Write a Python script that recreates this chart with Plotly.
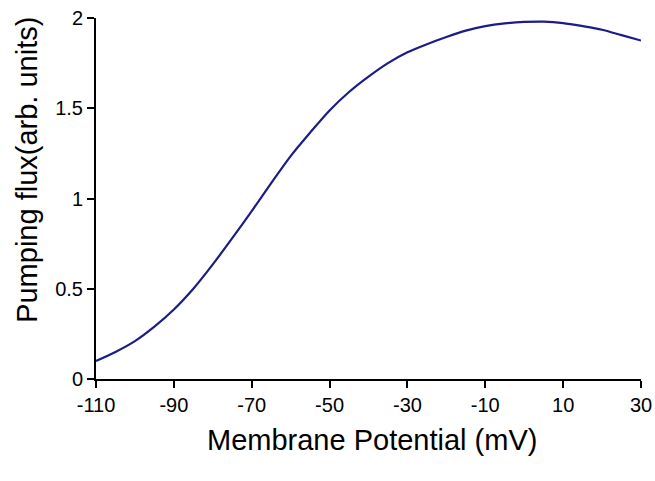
import plotly.graph_objects as go

# Membrane potential (mV)
potential_mv = [-110, -105, -100, -95, -90, -85, -80, -75, -70, -65, -60, -55, -50,
                -45, -40, -35, -30, -25, -20, -15, -10, -5, 0, 5, 10, 15, 20, 25, 30]
# Pumping flux (arb. units)
pumping_flux = [0.10, 0.15, 0.21, 0.29, 0.385, 0.50, 0.635, 0.78, 0.93, 1.085, 1.235, 1.365, 1.488,
                1.59, 1.675, 1.75, 1.81, 1.855, 1.895, 1.93, 1.955, 1.97, 1.978, 1.98, 1.972,
                1.955, 1.935, 1.905, 1.875]

x_ticks = [-110, -90, -70, -50, -30, -10, 10, 30]
y_ticks = [0, 0.5, 1, 1.5, 2]
y_tick_labels = ["0", "0.5", "1", "1.5", "2"]

fig = go.Figure()
fig.add_trace(go.Scatter(
    x=potential_mv, y=pumping_flux, mode="lines",
    line=dict(color="#1c1c88", width=2.2, shape="spline", smoothing=0.8),
    hoverinfo="skip", showlegend=False,
))

font_family = "Liberation Sans, Arial, Helvetica, sans-serif"

fig.update_layout(
    width=655, height=481,
    margin=dict(l=96, r=14, t=18, b=102, autoexpand=False),
    paper_bgcolor="white", plot_bgcolor="white",
    font=dict(family=font_family, color="black", size=20),
    xaxis=dict(
        range=[-110, 30], tickvals=x_ticks, ticktext=[str(v) for v in x_ticks],
        showgrid=False, zeroline=False, showline=True, linecolor="black", linewidth=2,
        ticks="outside", ticklen=7, tickwidth=2, tickcolor="black", automargin=False,
        tickfont=dict(size=20, family=font_family, color="black"),
    ),
    yaxis=dict(
        range=[0, 2], tickvals=y_ticks, ticktext=y_tick_labels,
        showgrid=False, zeroline=False, showline=True, linecolor="black", linewidth=2,
        ticks="outside", ticklen=7, tickwidth=2, tickcolor="black", automargin=False,
        tickfont=dict(size=20, family=font_family, color="black"),
    ),
    annotations=[
        dict(text="Membrane Potential (mV)", xref="paper", yref="paper",
             x=0.506, y=-0.168, xanchor="center", yanchor="middle", showarrow=False,
             font=dict(size=29, family=font_family, color="black")),
        dict(text="Pumping flux(arb. units)", xref="paper", yref="paper",
             x=-0.128, y=0.58, xanchor="center", yanchor="middle", textangle=-90,
             showarrow=False, font=dict(size=29, family=font_family, color="black")),
    ],
)

fig.write_html(
    "out.html",
    config={"displayModeBar": False},
    post_script="document.body.style.margin='0';document.body.style.padding='0';",
)
